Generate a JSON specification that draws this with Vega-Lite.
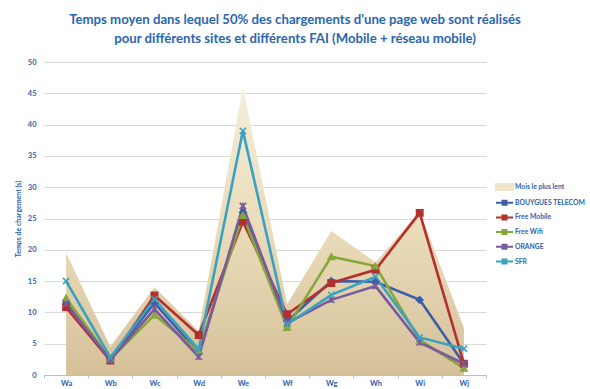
{
  "$schema": "https://vega.github.io/schema/vega-lite/v6.json",
  "width": 442,
  "height": 313,
  "autosize": {"type": "none"},
  "padding": {"left": 44, "top": 62, "right": 104, "bottom": 14},
  "background": "white",
  "config": {
    "font": "Lato",
    "view": {"stroke": null},
    "axis": {"labelFont": "Lato", "titleFont": "Lato"}
  },
  "title": {
    "text": ["Temps moyen dans lequel 50% des chargements d'une page web sont réalisés", "pour différents sites et différents FAI (Mobile  + réseau mobile)"],
    "font": "Lato",
    "fontSize": 13.2,
    "fontWeight": "bold",
    "color": "#2b66b0",
    "anchor": "middle",
    "dx": 30,
    "offset": 12,
    "lineHeight": 19
  },
  "datasets": {
    "lent": [
      {"site": "Wa", "value": 19.5},
      {"site": "Wb", "value": 4.5},
      {"site": "Wc", "value": 14},
      {"site": "Wd", "value": 7},
      {"site": "We", "value": 46},
      {"site": "Wf", "value": 11.3},
      {"site": "Wg", "value": 23},
      {"site": "Wh", "value": 18},
      {"site": "Wi", "value": 26.2},
      {"site": "Wj", "value": 7.5}
    ],
    "fai": [
      {"site": "Wa", "series": "BOUYGUES TELECOM", "value": 11.5},
      {"site": "Wb", "series": "BOUYGUES TELECOM", "value": 2.5},
      {"site": "Wc", "series": "BOUYGUES TELECOM", "value": 11.5},
      {"site": "Wd", "series": "BOUYGUES TELECOM", "value": 3.5},
      {"site": "We", "series": "BOUYGUES TELECOM", "value": 26},
      {"site": "Wf", "series": "BOUYGUES TELECOM", "value": 8.6},
      {"site": "Wg", "series": "BOUYGUES TELECOM", "value": 15},
      {"site": "Wh", "series": "BOUYGUES TELECOM", "value": 14.9},
      {"site": "Wi", "series": "BOUYGUES TELECOM", "value": 12},
      {"site": "Wj", "series": "BOUYGUES TELECOM", "value": 1.8},
      {"site": "Wa", "series": "Free Mobile", "value": 10.8},
      {"site": "Wb", "series": "Free Mobile", "value": 2.3},
      {"site": "Wc", "series": "Free Mobile", "value": 12.7},
      {"site": "Wd", "series": "Free Mobile", "value": 6.4},
      {"site": "We", "series": "Free Mobile", "value": 24.5},
      {"site": "Wf", "series": "Free Mobile", "value": 9.7},
      {"site": "Wg", "series": "Free Mobile", "value": 14.7},
      {"site": "Wh", "series": "Free Mobile", "value": 16.8},
      {"site": "Wi", "series": "Free Mobile", "value": 25.9},
      {"site": "Wj", "series": "Free Mobile", "value": 1.8},
      {"site": "Wa", "series": "Free  Wifi", "value": 12.3},
      {"site": "Wb", "series": "Free  Wifi", "value": 2.5},
      {"site": "Wc", "series": "Free  Wifi", "value": 9.6},
      {"site": "Wd", "series": "Free  Wifi", "value": 3.8},
      {"site": "We", "series": "Free  Wifi", "value": 25.5},
      {"site": "Wf", "series": "Free  Wifi", "value": 7.6},
      {"site": "Wg", "series": "Free  Wifi", "value": 18.9},
      {"site": "Wh", "series": "Free  Wifi", "value": 17.4},
      {"site": "Wi", "series": "Free  Wifi", "value": 5.6},
      {"site": "Wj", "series": "Free  Wifi", "value": 1.1},
      {"site": "Wa", "series": "ORANGE", "value": 11.4},
      {"site": "Wb", "series": "ORANGE", "value": 2.4},
      {"site": "Wc", "series": "ORANGE", "value": 10.5},
      {"site": "Wd", "series": "ORANGE", "value": 2.9},
      {"site": "We", "series": "ORANGE", "value": 27},
      {"site": "Wf", "series": "ORANGE", "value": 8.3},
      {"site": "Wg", "series": "ORANGE", "value": 12},
      {"site": "Wh", "series": "ORANGE", "value": 14.2},
      {"site": "Wi", "series": "ORANGE", "value": 5.2},
      {"site": "Wj", "series": "ORANGE", "value": 1.8},
      {"site": "Wa", "series": "SFR", "value": 15},
      {"site": "Wb", "series": "SFR", "value": 2.8},
      {"site": "Wc", "series": "SFR", "value": 12.1},
      {"site": "Wd", "series": "SFR", "value": 4.1},
      {"site": "We", "series": "SFR", "value": 39},
      {"site": "Wf", "series": "SFR", "value": 8.1},
      {"site": "Wg", "series": "SFR", "value": 12.8},
      {"site": "Wh", "series": "SFR", "value": 15.7},
      {"site": "Wi", "series": "SFR", "value": 6},
      {"site": "Wj", "series": "SFR", "value": 4.2}
    ]
  },
  "encoding": {
    "x": {
      "field": "site",
      "type": "nominal",
      "sort": null,
      "title": null,
      "axis": {
        "labelAngle": 0,
        "labelFontSize": 7.5,
        "labelFontWeight": "bold",
        "labelColor": "#2f62b0",
        "labelPadding": 1,
        "labelBaseline": "top",
        "tickBand": "extent",
        "tickSize": 3,
        "tickColor": "#bfbfbf",
        "domainColor": "#bfbfbf",
        "grid": false
      }
    },
    "y": {
      "field": "value",
      "type": "quantitative",
      "scale": {"domain": [0, 50], "nice": false},
      "title": "Temps de chargement (s)",
      "axis": {
        "values": [0, 5, 10, 15, 20, 25, 30, 35, 40, 45, 50],
        "labelFontSize": 7.5,
        "labelFontWeight": "bold",
        "labelColor": "#2f62b0",
        "titleFontSize": 7,
        "titleFontWeight": "bold",
        "titleColor": "#2f62b0",
        "titlePadding": 6,
        "domain": false,
        "ticks": false,
        "labelPadding": 8,
        "gridColor": "#d9d9d9",
        "gridWidth": 1
      }
    }
  },
  "layer": [
    {
      "data": {"name": "lent"},
      "mark": {
        "type": "area",
        "fill": {
          "gradient": "linear",
          "x1": 0, "y1": 0, "x2": 0, "y2": 1,
          "stops": [
            {"offset": 0, "color": "#f5eedb"},
            {"offset": 0.5, "color": "#eadcb9"},
            {"offset": 1, "color": "#d5c19a"}
          ]
        },
        "opacity": 1
      }
    },
    {
      "data": {"name": "fai"},
      "mark": {"type": "line", "strokeWidth": 2.6},
      "encoding": {
        "color": {
          "field": "series",
          "type": "nominal",
          "scale": {
            "domain": ["Mois le plus lent", "BOUYGUES TELECOM", "Free Mobile", "Free  Wifi", "ORANGE", "SFR"],
            "range": ["#efe4c6", "#3c5fa7", "#b3302f", "#86a83a", "#7a5a9e", "#39a2c2"]
          },
          "legend": {
            "title": null,
            "orient": "none",
            "legendX": 451,
            "legendY": 119,
            "rowPadding": 2.7,
            "labelFont": "Lato",
            "labelFontSize": 6.8,
            "labelFontWeight": "bold",
            "labelColor": "#2f62b0",
            "labelOffset": 8,
            "labelLimit": 200,
            "symbolSize": 100,
            "symbolStrokeWidth": 2,
            "encode": {
              "symbols": {
                "update": {
                  "shape": {"signal": "datum.value === 'Mois le plus lent' ? 'M-1,-0.6H2.4V0.6H-1Z' : 'M-1,0H2.4M0.3,-0.4H1.1V0.4H0.3Z'"},
                  "fill": {"signal": "scale('color', datum.value)"},
                  "stroke": {"signal": "datum.value === 'Mois le plus lent' ? 'transparent' : scale('color', datum.value)"},
                  "fillOpacity": {"value": 1},
                  "strokeWidth": {"value": 2}
                }
              },
              "labels": {
                "update": {"fontWeight": {"value": "bold"}}
              }
            }
          }
        }
      }
    },
    {
      "data": {"name": "fai"},
      "mark": {"type": "point", "filled": true, "strokeWidth": 1.6, "size": 40, "opacity": 1},
      "encoding": {
        "color": {"field": "series", "type": "nominal", "legend": null},
        "stroke": {"field": "series", "type": "nominal", "legend": null, "scale": {
            "domain": ["Mois le plus lent", "BOUYGUES TELECOM", "Free Mobile", "Free  Wifi", "ORANGE", "SFR"],
            "range": ["#efe4c6", "#3c5fa7", "#b3302f", "#86a83a", "#7a5a9e", "#39a2c2"]
          }},
        "shape": {
          "field": "series",
          "type": "nominal",
          "legend": null,
          "scale": {
            "domain": ["BOUYGUES TELECOM", "Free Mobile", "Free  Wifi", "ORANGE", "SFR"],
            "range": ["diamond", "square", "triangle-up", "M-1,-1L1,1M-1,1L1,-1M0,-1L0,1", "M-1,-1L1,1M-1,1L1,-1"]
          }
        }
      }
    }
  ]
}
